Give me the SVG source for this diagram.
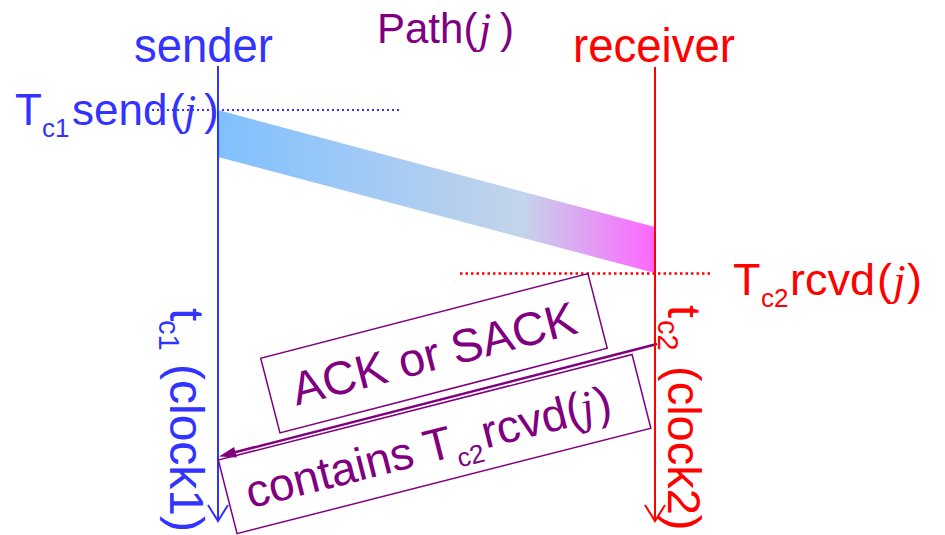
<svg xmlns="http://www.w3.org/2000/svg" width="945" height="535" viewBox="0 0 945 535">
<style>
.sans{font-family:"Liberation Sans",Arial,sans-serif}
.ital{font-family:"Liberation Serif","Times New Roman",serif;font-style:italic}
.blue{fill:#3333FF}
.red{fill:#FF0000}
.purple{fill:#800080}
.tl{fill:none;stroke-width:2}
.box{fill:none;stroke:#800080;stroke-width:1.5}
</style>
<defs>
<linearGradient id="bandGrad" gradientUnits="userSpaceOnUse" x1="218" y1="0" x2="655" y2="0">
<stop offset="0" stop-color="#80C0FF"/>
<stop offset="0.7" stop-color="#C4D4EA"/>
<stop offset="1" stop-color="#FF66FF"/>
</linearGradient>
</defs>
<rect width="945" height="535" fill="#FFFFFF"/>

<g id="connectors">
<polygon id="band" points="218,110 655,227 655,273 218,157" fill="url(#bandGrad)"/>
<line x1="147" y1="110" x2="400" y2="110" stroke="#3333FF" stroke-width="2" stroke-dasharray="2,3"/>
<line x1="460" y1="273.5" x2="713" y2="273.5" stroke="#FF0000" stroke-width="2.5" stroke-dasharray="2.5,3"/>
<g id="ack-arrow">
<line x1="657" y1="344" x2="235" y2="452.3" stroke="#800080" stroke-width="2.5"/>
<polygon points="219,456.5 236.9,457.6 234.1,447" fill="#800080"/>
</g>
</g>

<g id="sender">
<text class="sans blue" x="134" y="62" font-size="48" textLength="139" lengthAdjust="spacingAndGlyphs">sender</text>
<line x1="218" y1="66" x2="218" y2="521" stroke="#3333FF" stroke-width="2"/>
<polyline class="tl" stroke="#3333FF" points="208,505 218,521 228,505"/>
<text class="sans blue" transform="translate(170,308) rotate(90)" font-size="48">t<tspan x="12" dy="11" font-size="29">c1</tspan><tspan x="56" dy="-11">(clock1)</tspan></text>
</g>

<g id="receiver">
<text class="sans red" x="573" y="62" font-size="48" textLength="162" lengthAdjust="spacingAndGlyphs">receiver</text>
<line x1="655" y1="67" x2="655" y2="521" stroke="#FF0000" stroke-width="2"/>
<polyline class="tl" stroke="#FF0000" points="645,505 655,521 665,505"/>
<text class="sans red" transform="translate(668,305) rotate(90)" font-size="47">t<tspan x="15" dy="10" font-size="29">c2</tspan><tspan x="61" dy="-10">(clock2)</tspan></text>
</g>

<g id="path-label">
<text class="sans purple" x="377" y="43" font-size="42">Path(<tspan class="ital" x="479" font-size="44">j</tspan><tspan x="500">)</tspan></text>
</g>

<g id="tc1send">
<text class="sans blue" x="15" y="125" font-size="44">T<tspan x="42" dy="12" font-size="26">c1</tspan><tspan x="72" dy="-12">send</tspan><tspan x="170">(</tspan><tspan class="ital" x="184">j</tspan><tspan x="204">)</tspan></text>
</g>

<g id="tc2rcvd">
<text class="sans red" x="733" y="295" font-size="45">T<tspan x="761" dy="12" font-size="26">c2</tspan><tspan x="790" dy="-12">rcvd</tspan><tspan x="877">(</tspan><tspan class="ital" x="893">j</tspan><tspan x="907">)</tspan></text>
</g>

<g id="ack-box" transform="translate(260.7,358.3) rotate(-14.5)">
<rect class="box" x="0" y="0" width="338" height="77"/>
<text class="sans purple" x="169" y="55" font-size="47" text-anchor="middle">ACK or SACK</text>
</g>

<g id="contains-box" transform="translate(218.3,460) rotate(-14.3)">
<rect class="box" x="0" y="0" width="427" height="76"/>
<text class="sans purple" x="19" y="55" font-size="46">contains T<tspan x="232" dy="12" font-size="26">c2</tspan><tspan x="262" dy="-12">rcvd</tspan><tspan x="349">(</tspan><tspan class="ital" x="364">j</tspan><tspan x="379">)</tspan></text>
</g>
</svg>
